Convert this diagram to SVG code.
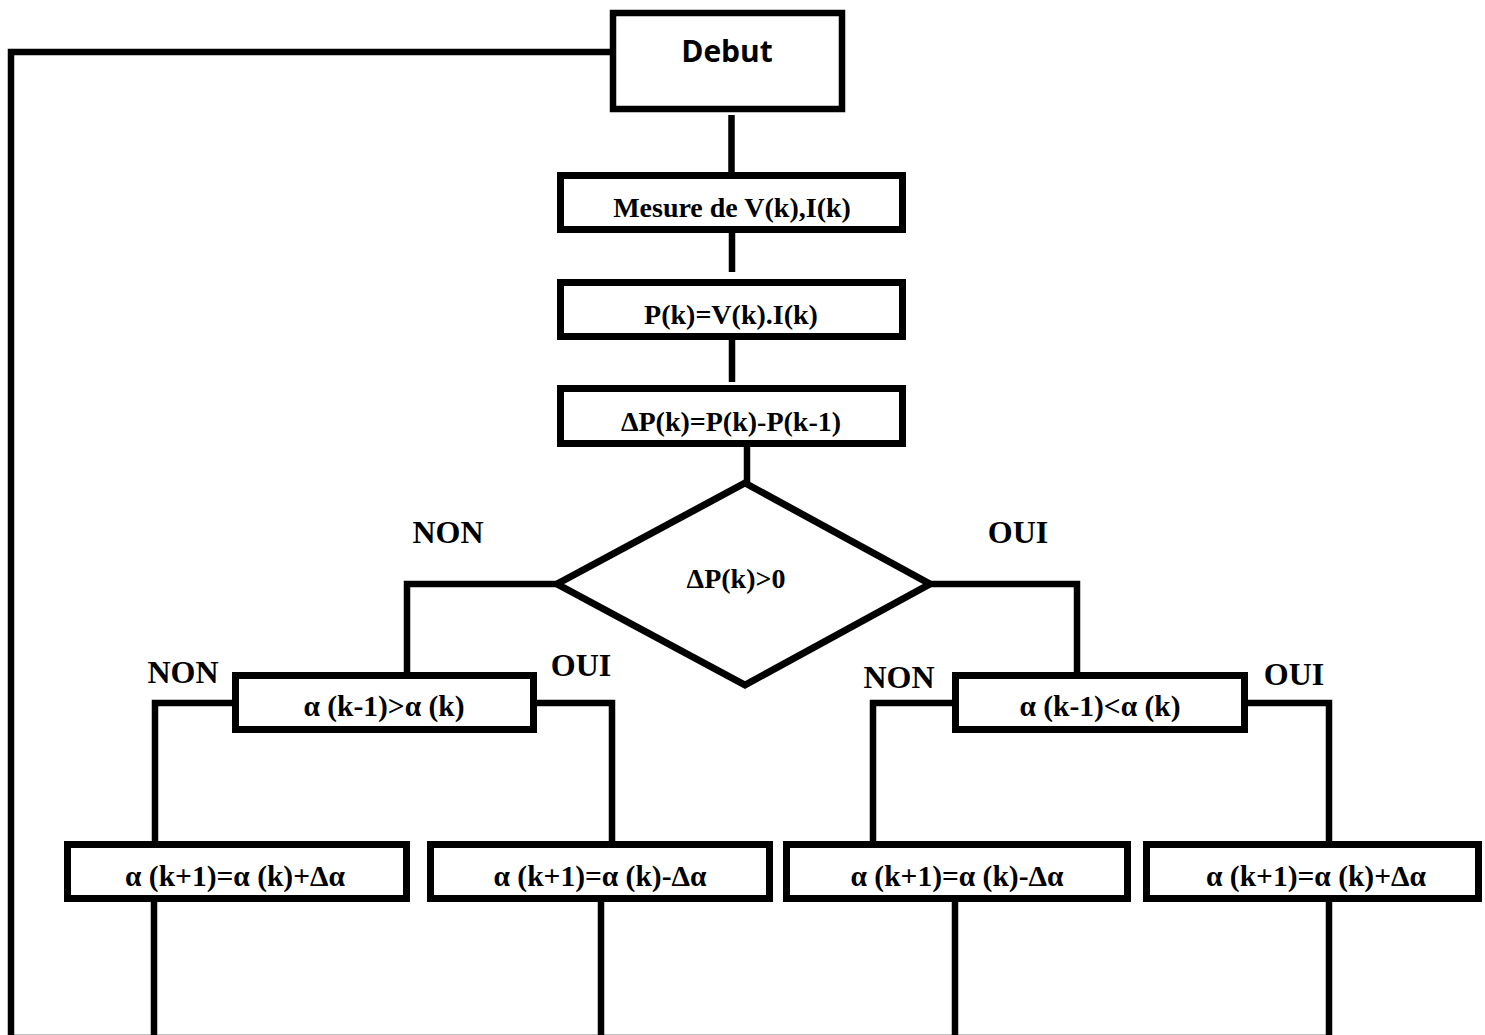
<svg xmlns="http://www.w3.org/2000/svg" width="1485" height="1035" viewBox="0 0 1485 1035">
<style>
.box{fill:#fff;stroke:#000;stroke-width:7}
.ln{fill:none;stroke:#000;stroke-width:6.5;stroke-linejoin:miter;stroke-linecap:butt}
.t{font-family:"Liberation Serif","Times New Roman",serif;font-weight:bold;font-size:28px;text-anchor:middle;fill:#000}
.a{font-size:29.5px}
.lbl{font-family:"Liberation Serif","Times New Roman",serif;font-weight:bold;font-size:32px;text-anchor:middle;fill:#000}
.s{font-family:"Open Sans","Liberation Sans",sans-serif;font-weight:bold;font-size:30px;text-anchor:middle;fill:#000}
</style>
<rect width="1485" height="1035" fill="#fff"/>
<g id="connectors">
<polyline class="ln" points="610,52 11,52 11,1038 1329,1038"/>
<line class="ln" x1="731.5" y1="115" x2="731.5" y2="172"/>
<line class="ln" x1="732" y1="233" x2="732" y2="272"/>
<line class="ln" x1="732" y1="340" x2="732" y2="382"/>
<line class="ln" x1="747" y1="447" x2="747" y2="484"/>
<polyline class="ln" points="557,584 407,584 407,672"/>
<polyline class="ln" points="930,584 1077,584 1077,672"/>
<polyline class="ln" points="232,703 155,703 155,841"/>
<polyline class="ln" points="537,703 612,703 612,841"/>
<polyline class="ln" points="952,703 873,703 873,841"/>
<polyline class="ln" points="1248,703 1329,703 1329,841"/>
<line class="ln" x1="154" y1="902" x2="154" y2="1038"/>
<line class="ln" x1="601" y1="902" x2="601" y2="1038"/>
<line class="ln" x1="955" y1="902" x2="955" y2="1038"/>
<line class="ln" x1="1329" y1="902" x2="1329" y2="1038"/>
</g>
<g id="labels">
<text class="lbl" x="448" y="543">NON</text>
<text class="lbl" x="1018" y="543">OUI</text>
<text class="lbl" x="183" y="683">NON</text>
<text class="lbl" x="581" y="676">OUI</text>
<text class="lbl" x="899" y="688">NON</text>
<text class="lbl" x="1294" y="685">OUI</text>
</g>
<g id="debut">
<rect class="box" x="613" y="13" width="229" height="96" style="stroke-width:6.5"/>
<text class="s" x="727" y="62">Debut</text>
</g>
<g id="mesure">
<rect class="box" x="560.5" y="175.5" width="342" height="54"/>
<text class="t" x="732" y="217">Mesure de V(k),I(k)</text>
</g>
<g id="puissance">
<rect class="box" x="560.5" y="282.5" width="342" height="54"/>
<text class="t" x="731" y="324">P(k)=V(k).I(k)</text>
</g>
<g id="deltaP">
<rect class="box" x="560.5" y="388.5" width="342" height="55"/>
<text class="t" x="731" y="431">ΔP(k)=P(k)-P(k-1)</text>
</g>
<g id="decision">
<polygon class="box" points="745,483 930,584 745,685 557,584"/>
<text class="t" x="736" y="588">ΔP(k)&gt;0</text>
</g>
<g id="test-left">
<rect class="box" x="235.5" y="675.5" width="298" height="54"/>
<text class="t a" x="384" y="716">α (k-1)&gt;α (k)</text>
</g>
<g id="test-right">
<rect class="box" x="955.5" y="675.5" width="289" height="54"/>
<text class="t a" x="1100" y="716">α (k-1)&lt;α (k)</text>
</g>
<g id="update-1">
<rect class="box" x="67.5" y="844.5" width="339" height="54"/>
<text class="t a" x="235" y="886">α (k+1)=α (k)+Δα</text>
</g>
<g id="update-2">
<rect class="box" x="430.5" y="844.5" width="339" height="54"/>
<text class="t a" x="600" y="886">α (k+1)=α (k)-Δα</text>
</g>
<g id="update-3">
<rect class="box" x="786.5" y="844.5" width="341" height="54"/>
<text class="t a" x="957" y="886">α (k+1)=α (k)-Δα</text>
</g>
<g id="update-4">
<rect class="box" x="1146.5" y="844.5" width="332" height="54"/>
<text class="t a" x="1316" y="886">α (k+1)=α (k)+Δα</text>
</g>
</svg>
